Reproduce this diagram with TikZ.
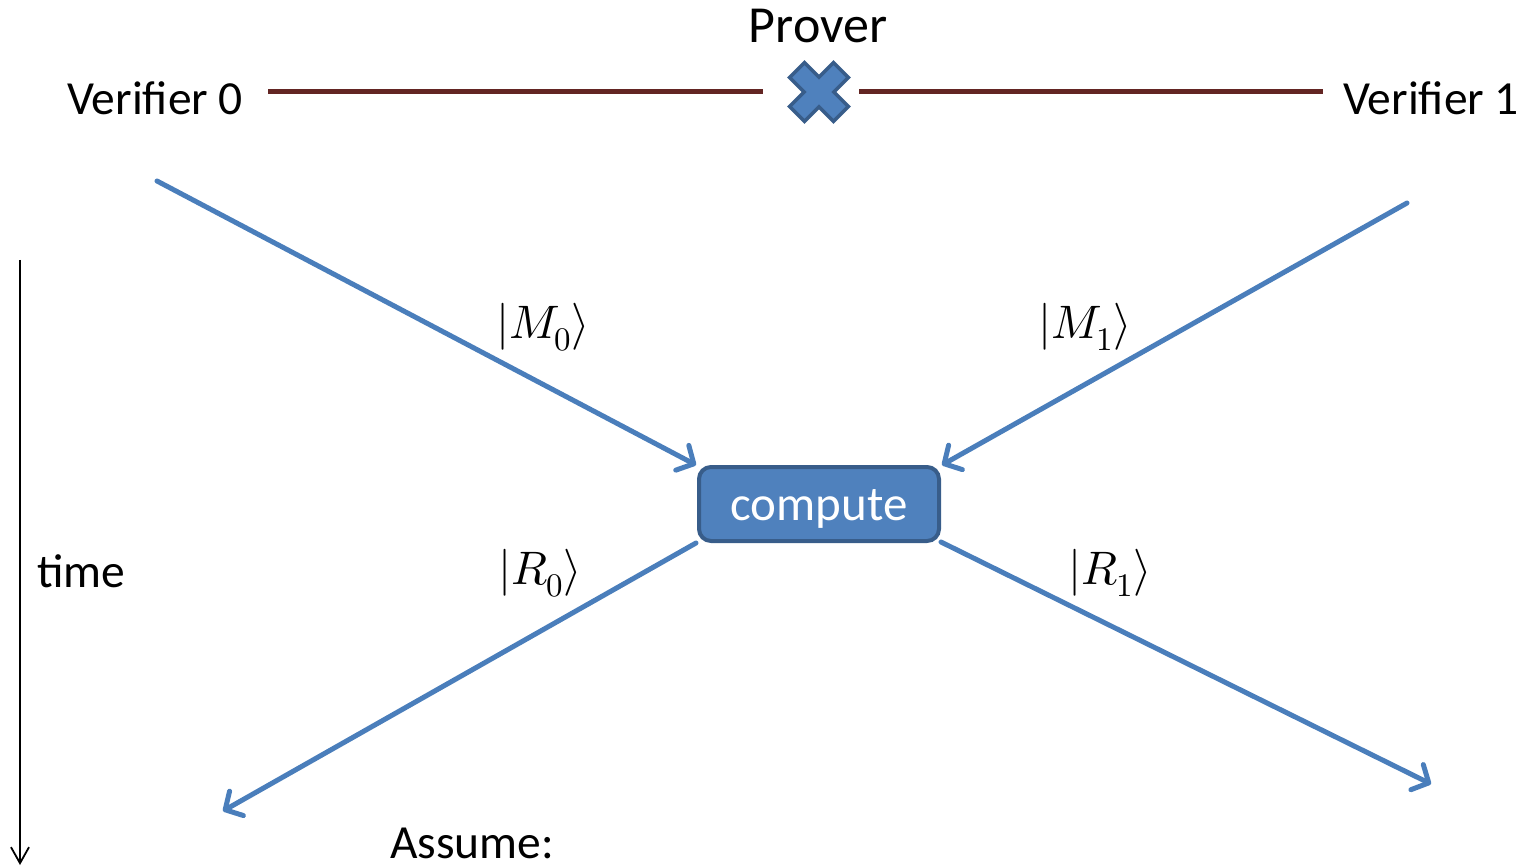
\documentclass[tikz,border=0pt]{standalone}
\usepackage{fontspec}
\usepackage{unicode-math}
\setmainfont{Carlito}
\setmathfont{Latin Modern Math}
\usetikzlibrary{arrows.meta,calc}
\definecolor{arrblue}{HTML}{4A7EBB}
\definecolor{boxfill}{HTML}{4F81BD}
\definecolor{boxline}{HTML}{385D8A}
\definecolor{linkred}{HTML}{632523}
\tikzset{
  txt/.style={font=\fontsize{47.5}{52}\selectfont, inner sep=0pt},
  mlabel/.style={font=\fontsize{47}{50}\selectfont, inner sep=0pt},
  msg/.style={draw=arrblue, line width=5pt, line cap=round,
    -{Straight Barb[length=13pt,width=28pt,line width=5pt,round]}},
  link/.style={draw=linkred, line width=5pt},
  timeline/.style={draw=black, line width=1.8pt,
    -{Straight Barb[length=16pt,width=18pt,line width=1.8pt]}},
  computebox/.style={draw=boxline, fill=boxfill, line width=4pt,
    rounded corners=12pt, minimum width=240pt, minimum height=74pt,
    inner sep=0pt},
  boxtext/.style={text=white, font=\fontsize{49}{52}\selectfont, inner sep=0pt},
}
\begin{document}
\begin{tikzpicture}[x=1pt,y=-1pt]
\useasboundingbox (0,0) rectangle (1523,866);
% header
\node[txt, font=\fontsize{52}{56}\selectfont, anchor=base] (prover) at (818,43) {Prover};
\node[txt, anchor=base west] (v0) at (67,115) {Verifier 0};
\node[txt, anchor=base west] (v1) at (1343,115) {Verifier 1};
% cross
\coordinate (crossc) at (819,92);
\draw[fill=boxfill, draw=boxline, line width=3.5pt, line join=miter, shift={(crossc)}, rotate=45]
  (-31,-10.5) -- (-10.5,-10.5) -- (-10.5,-31) -- (10.5,-31) -- (10.5,-10.5) -- (31,-10.5)
  -- (31,10.5) -- (10.5,10.5) -- (10.5,31) -- (-10.5,31) -- (-10.5,10.5) -- (-31,10.5) -- cycle;
\coordinate (l0a) at (268,92);
\coordinate (l0b) at (763,92);
\coordinate (l1a) at (859,92);
\coordinate (l1b) at (1323,92);
\draw[link] (l0a) -- (l0b);
\draw[link] (l1a) -- (l1b);
% compute box
\node[computebox] (comp) at (819,504) {};
\node[boxtext, anchor=base] (comptext) at (819,520) {compute};
% message arrows
\coordinate (s0) at (157,181);
\coordinate (s1) at (1407,203);
\coordinate (e0) at (223,811);
\coordinate (e1) at (1431,784);
\draw[msg] (s0) -- ($(comp.north west)+(-1,0)$);
\draw[msg] (s1) -- ($(comp.north east)+(1,0)$);
\draw[msg] ($(comp.south west)+(-1,0)$) -- (e0);
\draw[msg] ($(comp.south east)+(0,-1)$) -- (e1);
% labels
\node[mlabel] (m0) at (543,327) {$|M_0\rangle$};
\node[mlabel] (m1) at (1085,327) {$|M_1\rangle$};
\node[mlabel] (r0) at (540,573) {$|R_0\rangle$};
\node[mlabel] (r1) at (1110,573) {$|R_1\rangle$};
% time
\coordinate (t0) at (20,260);
\coordinate (t1) at (20,865);
\draw[timeline] (t0) -- (t1);
\node[txt, anchor=base west] (time) at (37,587) {time};
\node[txt, anchor=base west] (assume) at (390,858) {Assume:};
\end{tikzpicture}
\end{document}
